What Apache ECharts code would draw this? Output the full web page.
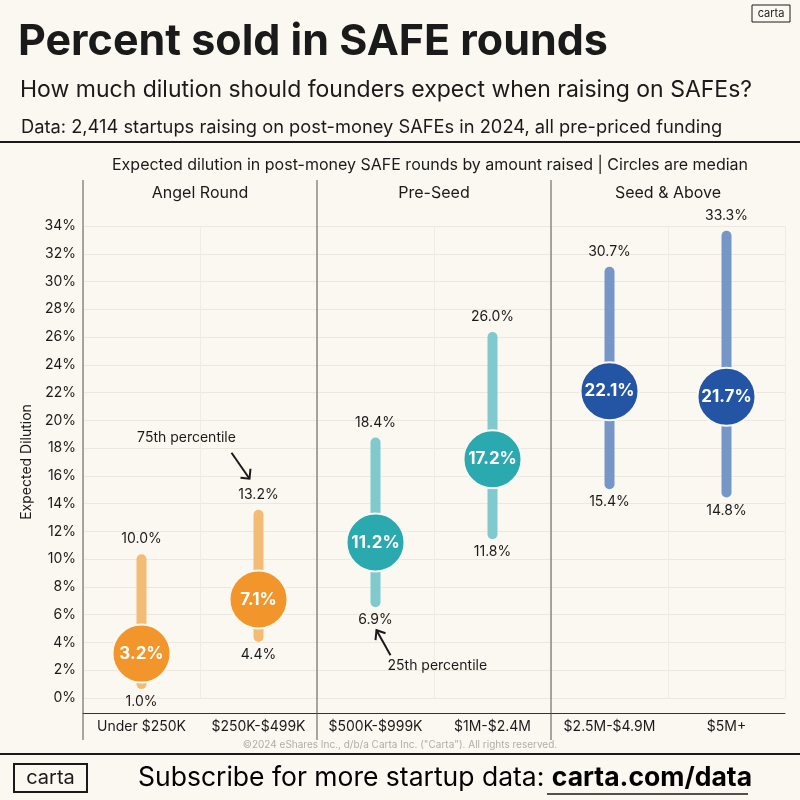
<!DOCTYPE html>
<html>
<head>
<meta charset="utf-8">
<script src="https://cdn.jsdelivr.net/npm/echarts@6/dist/echarts.min.js"></script>
<style>
html,body{margin:0;padding:0;background:#FBF8F2;}
#c{width:800px;height:800px;}
</style>
</head>
<body>
<div id="c"></div>
<script>
// ---- data ----
const categories = ['Under $250K', '$250K-$499K', '$500K-$999K', '$1M-$2.4M', '$2.5M-$4.9M', '$5M+'];
const groups = ['Angel Round', 'Pre-Seed', 'Seed & Above'];
const p25 = [1.0, 4.4, 6.9, 11.8, 15.4, 14.8];
const median = [3.2, 7.1, 11.2, 17.2, 22.1, 21.7];
const p75 = [10.0, 13.2, 18.4, 26.0, 30.7, 33.3];
const yMin = 0, yMax = 34, yStep = 2;

// ---- styles ----
const BG = '#FBF8F2';
const INK = '#1A1A1A';
const FONT = 'Inter, "Noto Sans", sans-serif';
const rangeColors = ['#F3BC75', '#F3BC75', '#80C9CD', '#80C9CD', '#7596C6', '#7596C6'];
const dotColors = ['#F2962B', '#F2962B', '#2AA9AF', '#2AA9AF', '#2455A5', '#2455A5'];

const fmt = v => v.toFixed(1) + '%';

const chart = echarts.init(document.getElementById('c'), null, {renderer: 'canvas'});

const rangeData = categories.map((c, i) => [i, p25[i], p75[i]]);
const medData = categories.map((c, i) => ({
  value: [i, median[i]],
  itemStyle: {color: dotColors[i]}
}));

const option = {
  backgroundColor: BG,
  animation: false,
  title: [
    {text: 'Percent sold in SAFE rounds', left: 13, top: 16,
     textStyle: {fontFamily: FONT, fontSize: 43, fontWeight: 'bold', color: INK}},
    {text: 'How much dilution should founders expect when raising on SAFEs?', left: 15, top: 74,
     textStyle: {fontFamily: FONT, fontSize: 23, fontWeight: 'normal', color: INK}},
    {text: 'Data: 2,414 startups raising on post-money SAFEs in 2024, all pre-priced funding', left: 16, top: 114,
     textStyle: {fontFamily: FONT, fontSize: 18.3, fontWeight: 'normal', color: INK}},
    {text: 'Expected dilution in post-money SAFE rounds by amount raised | Circles are median', right: 47, top: 152,
     textStyle: {fontFamily: FONT, fontSize: 16, fontWeight: 'normal', color: INK}}
  ],
  grid: {left: 83, right: 15, top: 226, bottom: 102},
  xAxis: [
    {
      type: 'category', data: categories, position: 'bottom', offset: 15,
      axisLine: {onZero: false, lineStyle: {color: '#333', width: 1}},
      axisTick: {show: false},
      axisLabel: {color: INK, fontFamily: FONT, fontSize: 14, margin: 7, interval: 0},
      splitLine: {show: true, interval: 0, lineStyle: {color: '#F0ECE4', width: 1}}
    },
    {
      type: 'category', data: groups, position: 'top', gridIndex: 0,
      axisLine: {show: false}, axisTick: {show: false},
      axisLabel: {color: INK, fontFamily: FONT, fontSize: 16, margin: 25, interval: 0},
      splitLine: {show: false}
    }
  ],
  yAxis: {
    type: 'value', min: yMin, max: yMax, interval: yStep,
    name: 'Expected Dilution', nameLocation: 'middle', nameGap: 40, nameRotate: 90,
    nameTextStyle: {color: INK, fontFamily: FONT, fontSize: 14},
    axisLine: {show: false}, axisTick: {show: false},
    axisLabel: {color: INK, fontFamily: FONT, fontSize: 14, margin: 7, formatter: v => v + '%'},
    splitLine: {lineStyle: {color: '#ECE8E0', width: 1}}
  },
  series: [
    {
      type: 'custom',
      xAxisIndex: 0, yAxisIndex: 0,
      data: rangeData,
      z: 2,
      renderItem: function (params, api) {
        const i = params.dataIndex;
        const lo = api.coord([api.value(0), api.value(1)]);
        const hi = api.coord([api.value(0), api.value(2)]);
        return {
          type: 'group',
          children: [
            {type: 'line', shape: {x1: lo[0], y1: lo[1], x2: hi[0], y2: hi[1]},
             style: {stroke: rangeColors[i], lineWidth: 10, lineCap: 'round'}},
            {type: 'text', style: {text: fmt(api.value(2)), x: hi[0], y: hi[1] - 13,
              textAlign: 'center', textVerticalAlign: 'bottom', fill: INK,
              font: '14px ' + FONT}},
            {type: 'text', style: {text: fmt(api.value(1)), x: lo[0], y: lo[1] + 11,
              textAlign: 'center', textVerticalAlign: 'top', fill: INK,
              font: '14px ' + FONT}}
          ]
        };
      }
    },
    {
      type: 'scatter',
      xAxisIndex: 0, yAxisIndex: 0,
      data: medData,
      symbol: 'circle',
      symbolSize: 58,
      z: 3,
      itemStyle: {borderColor: BG, borderWidth: 2, opacity: 1},
      label: {show: true, position: 'inside', color: '#fff', fontFamily: FONT,
        fontSize: 17, fontWeight: 'bold', formatter: p => fmt(p.value[1])}
    }
  ]
};

chart.setOption(option);

// ---- layout decorations computed from the axes ----
const xp = i => chart.convertToPixel({xAxisIndex: 0}, i);
const yp = v => chart.convertToPixel({yAxisIndex: 0}, v);
const band = xp(1) - xp(0);
const lineTop = 180, lineBottom = 740;
const dividers = [0, 2, 4].map(i => xp(i) - band / 2);

const g = [];
dividers.forEach(x => g.push({type: 'line', shape: {x1: x, y1: lineTop, x2: x, y2: lineBottom},
  style: {stroke: '#555', lineWidth: 1}, z: 1}));

// header / footer rules
g.push({type: 'line', shape: {x1: 0, y1: 142, x2: 800, y2: 142}, style: {stroke: INK, lineWidth: 2}});
g.push({type: 'line', shape: {x1: 0, y1: 754, x2: 800, y2: 754}, style: {stroke: INK, lineWidth: 2}});

// top right logo
g.push({type: 'rect', shape: {x: 752, y: 5, width: 38, height: 17}, style: {fill: 'none', stroke: INK, lineWidth: 1}});
g.push({type: 'text', style: {text: 'carta', x: 771, y: 13.5, textAlign: 'center', textVerticalAlign: 'middle',
  fill: INK, font: '11px ' + FONT}});

// copyright
g.push({type: 'text', style: {text: '©2024 eShares Inc., d/b/a Carta Inc. ("Carta"). All rights reserved.',
  x: 400, y: 745, textAlign: 'center', textVerticalAlign: 'middle', fill: '#B0ADA8', font: '10px ' + FONT}});

// footer logo box
g.push({type: 'rect', shape: {x: 14, y: 764, width: 73, height: 28}, style: {fill: 'none', stroke: INK, lineWidth: 2}});
g.push({type: 'text', style: {text: 'carta', x: 50.5, y: 778, textAlign: 'center', textVerticalAlign: 'middle',
  fill: INK, font: '20px ' + FONT}});

// footer call to action
g.push({type: 'text', style: {
  text: '{a|Subscribe for more startup data: }{b|carta.com/data}',
  x: 138, y: 778, textAlign: 'left', textVerticalAlign: 'middle',
  rich: {
    a: {fontFamily: FONT, fontSize: 26.5, color: INK},
    b: {fontFamily: FONT, fontSize: 26.5, fontWeight: 'bold', color: INK}
  }
}});
g.push({type: 'line', shape: {x1: 547, y1: 794, x2: 748, y2: 794}, style: {stroke: INK, lineWidth: 1.5}});

// annotations, anchored to data points
const a75 = [xp(1), yp(p75[1])];
g.push({type: 'text', style: {text: '75th percentile', x: a75[0] - 72, y: a75[1] - 77,
  textAlign: 'center', textVerticalAlign: 'middle', fill: INK, font: '14px ' + FONT}});
const t75 = [a75[0] - 9, a75[1] - 36], s75 = [a75[0] - 27, a75[1] - 62];
g.push({type: 'line', shape: {x1: s75[0], y1: s75[1], x2: t75[0], y2: t75[1]}, style: {stroke: INK, lineWidth: 2}});
g.push({type: 'polyline', shape: {points: [[t75[0] - 9, t75[1] - 1], t75, [t75[0] + 1, t75[1] - 10]]},
  style: {stroke: INK, lineWidth: 2, fill: 'none'}});

const a25 = [xp(2), yp(p25[2])];
g.push({type: 'text', style: {text: '25th percentile', x: a25[0] + 12, y: a25[1] + 64,
  textAlign: 'left', textVerticalAlign: 'middle', fill: INK, font: '14px ' + FONT}});
const t25 = [a25[0] + 1, a25[1] + 28], s25 = [a25[0] + 15, a25[1] + 53];
g.push({type: 'line', shape: {x1: s25[0], y1: s25[1], x2: t25[0], y2: t25[1]}, style: {stroke: INK, lineWidth: 2}});
g.push({type: 'polyline', shape: {points: [[t25[0] - 1, t25[1] + 10], t25, [t25[0] + 9, t25[1] + 3]]},
  style: {stroke: INK, lineWidth: 2, fill: 'none'}});

chart.setOption({graphic: g});
</script>
</body>
</html>
